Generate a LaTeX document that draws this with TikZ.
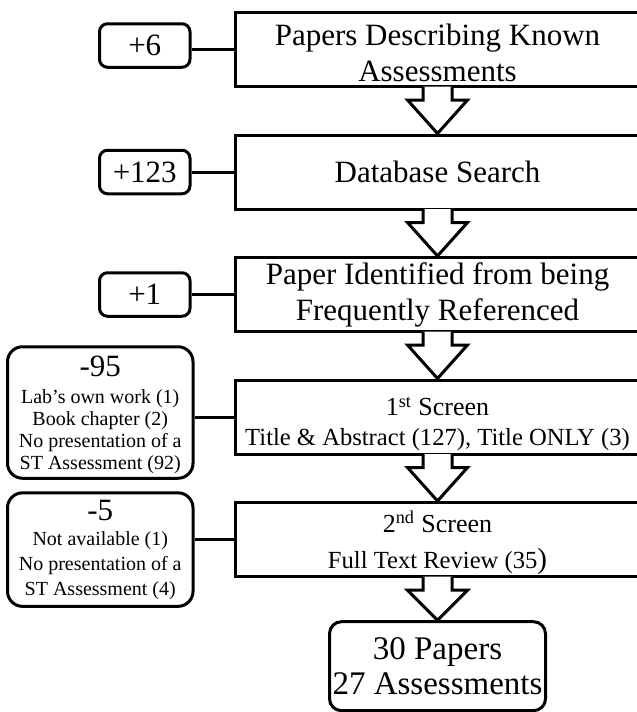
\documentclass[tikz,border=0pt]{standalone}
\usepackage{fontspec}
\setmainfont{Liberation Serif}
\usetikzlibrary{positioning,calc}
\begin{document}
\begin{tikzpicture}[x=0.5pt,y=-0.5pt,line width=1.5pt,
stage/.style={draw,minimum width=202.5pt,minimum height=37pt,align=center,inner sep=1pt,font=\fontsize{15.5}{18}\selectfont},
tally/.style={draw,rounded corners=4pt,minimum width=45.25pt,minimum height=21.75pt,font=\fontsize{15.5}{18}\selectfont},
drop/.style={draw,rounded corners=7.5pt,minimum width=92.75pt,align=center,inner sep=1pt,font=\fontsize{10}{10.5}\selectfont}]
\useasboundingbox (0,0) rectangle (637,712);
% main column
\node[stage] (p1) at (437.5,49.5) {\rule{0pt}{14.5pt}Papers Describing Known\\Assessments};
\node[stage,below=22.75pt of p1] (p2) {Database Search};
\node[stage,below=22.75pt of p2] (p3) {Paper Identified from being\\Frequently Referenced};
\node[stage,below=22.75pt of p3] (p4) {{\fontsize{13}{15}\selectfont\rule{0pt}{16.5pt}1\textsuperscript{st} Screen}\\[-3pt]{\fontsize{12.3}{15}\selectfont Title \& Abstract (127), Title ONLY (3)}};
\node[stage,below=22.75pt of p4] (p5) {{\fontsize{13}{15}\selectfont\rule{0pt}{14pt}2\textsuperscript{nd} Screen}\\{\fontsize{12.3}{15}\selectfont Full Text Review (35{\fontsize{14.5}{15}\selectfont)}}};
\node[draw,rounded corners=6pt,minimum width=108pt,minimum height=44.5pt,align=center,inner sep=1pt,font=\fontsize{16.5}{17.5}\selectfont,below=21pt of p5] (fin) {30 Papers\\27 Assessments};
% side counts
\node[tally,left=21pt of p1,yshift=2pt] (s1) {+6};
\node[tally,left=21pt of p2] (s2) {+123};
\node[tally,left=21pt of p3] (s3) {+1};
\node[drop,minimum height=65.75pt,left=19.5pt of p4,yshift=2.25pt] (s4) {{\fontsize{15.5}{16}\selectfont\rule{0pt}{13pt}-95}\\[3pt]Lab’s own work (1)\\[0.5pt]Book chapter (2)\\[0.5pt]No presentation of a\\[0.5pt]ST Assessment (92)};
\node[drop,minimum height=56.75pt,left=19.5pt of p5,yshift=-5pt] (s5) {{\fontsize{15.5}{16}\selectfont -5}\\[2pt]Not available (1)\\[2pt]No presentation of a\\[2pt]ST Assessment (4)};
\foreach \X in {1,...,5} {\draw (p\X.west) -- (p\X.west -| s\X.east);}
% block arrows between stages
\foreach \X/\Y in {p1/p2,p2/p3,p3/p4,p4/p5,p5/fin}
 \filldraw[fill=white,line join=miter] ($(\X.south)+(-14.5,-1.5)$) -- ($(\X.south)+(-14.5,12)$) -- ($(\X.south)+(-30,12)$) -- (\Y.north)
 -- ($(\X.south)+(30,12)$) -- ($(\X.south)+(14.5,12)$) -- ($(\X.south)+(14.5,-1.5)$);
\end{tikzpicture}
\end{document}
